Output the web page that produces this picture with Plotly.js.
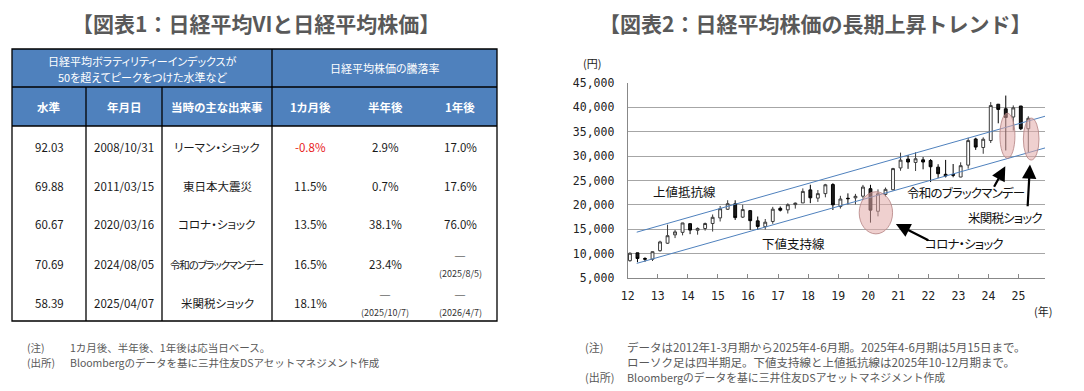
<!DOCTYPE html>
<html><head><meta charset="utf-8">
<script src="https://cdn.plot.ly/plotly-3.0.1.min.js"></script>
<style>
html,body{margin:0;padding:0;background:#fff;}
#chart{width:1084px;height:391px;}
</style></head><body><div id="chart"></div>
<script>
// ===== 図表1 table data =====
const groupHeaders = ['日経平均ボラティリティーインデックスが\n50を超えてピークをつけた水準など', '日経平均株価の騰落率'];
const colHeaders = ['水準', '年月日', '当時の主な出来事', '1カ月後', '半年後', '1年後'];
const vixLevels = ['92.03', '69.88', '60.67', '70.69', '58.39'];
const peakDates = ['2008/10/31', '2011/03/15', '2020/03/16', '2024/08/05', '2025/04/07'];
const events = ['リーマン・ショック', '東日本大震災', 'コロナ・ショック', '令和のブラックマンデー', '米関税ショック'];
const chg1m = ['-0.8%', '11.5%', '13.5%', '16.5%', '18.1%'];
const chg6m = ['2.9%', '0.7%', '38.1%', '23.4%', '―'];
const chg6mNote = ['', '', '', '', '(2025/10/7)'];
const chg1y = ['17.0%', '17.6%', '76.0%', '―', '―'];
const chg1yNote = ['', '', '', '(2025/8/5)', '(2026/4/7)'];

// ===== 図表2 candle data (quarterly) =====
const periods = ['2012Q1','2012Q2','2012Q3','2012Q4','2013Q1','2013Q2','2013Q3','2013Q4',
 '2014Q1','2014Q2','2014Q3','2014Q4','2015Q1','2015Q2','2015Q3','2015Q4',
 '2016Q1','2016Q2','2016Q3','2016Q4','2017Q1','2017Q2','2017Q3','2017Q4',
 '2018Q1','2018Q2','2018Q3','2018Q4','2019Q1','2019Q2','2019Q3','2019Q4',
 '2020Q1','2020Q2','2020Q3','2020Q4','2021Q1','2021Q2','2021Q3','2021Q4',
 '2022Q1','2022Q2','2022Q3','2022Q4','2023Q1','2023Q2','2023Q3','2023Q4',
 '2024Q1','2024Q2','2024Q3','2024Q4','2025Q1','2025Q2'];
const openP  = [8550,10161,9003,8852,10604,12135,13852,14364,16147,14792,15149,16174,17325,19097,20215,17484,
 18818,16719,15528,16598,19298,18983,20055,20400,23073,21388,22311,24167,19655,21351,21436,21780,
 23319,18686,22150,23105,27575,29389,28707,29235,29098,27737,26273,26216,25716,28150,33517,31771,
 33193,40646,39713,38022,40281,35624];
const highP  = [10255,10190,9254,10433,12650,15942,14855,16320,16164,15376,16374,18030,19778,20952,20946,20012,
 18951,17613,17100,19592,19668,20318,20481,23382,24129,23050,24306,24448,21860,22362,22255,24091,
 24115,23185,23559,27602,30714,30208,30795,29808,29388,28338,29222,28383,28734,33772,33772,33853,
 41087,40697,42426,40398,40288,38173];
const lowP   = [8349,8239,8328,8488,10398,12003,13188,13748,13995,13885,14720,14529,16592,18949,16901,17304,
 14865,14864,14952,16111,18650,18224,19239,20397,20347,20617,21546,18949,19241,20110,20110,21276,
 16358,17646,21710,22948,27002,27385,26954,27293,24681,25520,25621,25661,25661,27427,31275,30487,
 32693,36733,31156,35247,35338,30793];
const closeP = [10084,9007,8870,10395,12398,13677,14456,16291,14828,15162,16174,17451,19207,20236,17388,19034,
 16759,15576,16450,19114,18909,20033,20356,22765,21454,22305,24120,20015,21206,21276,21756,23657,
 18917,22288,23185,27444,29179,28792,29453,28792,27821,26393,25937,26095,28041,33189,31858,33464,
 40369,39583,37920,39895,35618,37756];
const yearTicks = [12,13,14,15,16,17,18,19,20,21,22,23,24,25];

// trend channel (to 2025 Oct-Dec)
const trendX = [12.3, 25.95];
const upperTrend = [14400, 38300];
const lowerTrend = [8000, 31800];

// highlighted periods (ellipses)
const hlX0 = [19.70, 24.38, 25.16];
const hlX1 = [20.81, 24.88, 25.68];
const hlY0 = [14050, 29550, 29200];
const hlY1 = [22700, 38800, 37800];

// callout labels
const calloutText = ['上値抵抗線', '下値支持線', 'コロナ・ショック', '令和のブラックマンデー', '米関税ショック'];
const calloutX = [13.9, 17.5, 23.2, 23.25, 24.55];
const calloutY = [22700, 12100, 12100, 22500, 17450];
// arrows
const arrowTailX = [22.05, 24.16, 25.30];
const arrowTailY = [12600, 23400, 19400];
const arrowTipX = [20.92, 24.56, 25.38];
const arrowTipY = [16100, 27900, 28300];

const notesLeft = [['(注)', '1カ月後、半年後、1年後は応当日ベース。'], ['(出所)', 'Bloombergのデータを基に三井住友DSアセットマネジメント作成']];
const notesRightLabel = ['(注)', '(出所)'];
const notesRightText = [
  ['データは2012年1-3月期から2025年4-6月期。2025年4-6月期は5月15日まで。', 'ローソク足は四半期足。下値支持線と上値抵抗線は2025年10-12月期まで。'],
  ['Bloombergのデータを基に三井住友DSアセットマネジメント作成']
];

// ===== layout helpers =====
const W = 1084, H = 391;
const PX = x => x / W;
const PY = y => 1 - y / H;
const JP = 'Noto Sans CJK JP, sans-serif';
// proportional kana (like Meiryo UI), optional tighter tracking
const palt = (t, ls) => '<span style="font-feature-settings:\'palt\';' + (ls ? 'letter-spacing:' + ls + 'px' : '') + '">' + t + '</span>';

const annotations = [];
const shapes = [];
function txt(text, x, y, size, color, xanchor, extra) {
  annotations.push(Object.assign({
    text: text, x: PX(x), y: PY(y), xref: 'paper', yref: 'paper',
    xanchor: xanchor || 'center', yanchor: 'middle', showarrow: false,
    font: {family: JP, size: size, color: color}
  }, extra || {}));
}

// titles
txt('<b>【図表1：日経平均VIと日経平均株価】</b>', 256, 23, 21, '#595959');
txt('<b>【図表2：日経平均株価の長期上昇トレンド】</b>', 815, 23, 21, '#595959');

// table geometry
const tL = 12, tR = 497, tTop = 49, tMid = 87, tHead = 126, tBot = 321;
const colEdges = [12, 86, 162, 272, 497];
const colCenters = [49, 124, 217, 310, 385, 460];
const rowY = [147, 186, 224, 264, 303];
const lineBlack = {color: '#000', width: 1.3};
function pline(x0, y0, x1, y1) {
  shapes.push({type: 'line', xref: 'paper', yref: 'paper', x0: PX(x0), y0: PY(y0), x1: PX(x1), y1: PY(y1), line: lineBlack});
}
shapes.push({type: 'rect', xref: 'paper', yref: 'paper', x0: PX(tL), x1: PX(tR), y0: PY(tTop), y1: PY(tHead), fillcolor: '#4F81BD', line: {width: 0}, layer: 'below'});
shapes.push({type: 'rect', xref: 'paper', yref: 'paper', x0: PX(tL), x1: PX(tR), y0: PY(tTop), y1: PY(tBot), line: lineBlack});
pline(tL, tMid, tR, tMid);
pline(tL, tHead, tR, tHead);
pline(colEdges[1], tMid, colEdges[1], tBot);
pline(colEdges[2], tMid, colEdges[2], tBot);
pline(colEdges[3], tTop, colEdges[3], tBot);

// group headers
const g1 = groupHeaders[0].split('\n');
txt(palt(g1[0]), 142, 61, 11, '#fff');
txt(palt(g1[1]), 142, 77, 11, '#fff');
txt(palt(groupHeaders[1]), 384.5, 68, 11, '#fff');
colHeaders.forEach((h, i) => txt('<b>' + palt(h) + '</b>', colCenters[i], 107, 11.5, '#fff'));

// body
const bodyCols = [vixLevels, peakDates, events, chg1m, chg6m, chg1y];
const noteCols = [null, null, null, null, chg6mNote, chg1yNote];
for (let r = 0; r < vixLevels.length; r++) {
  bodyCols.forEach((col, c) => {
    const v = col[r];
    const note = noteCols[c] ? noteCols[c][r] : '';
    const color = v.charAt(0) === '-' ? '#e8201a' : '#1a1a1a';
    if (note) {
      txt(v, colCenters[c], rowY[r] - 8, 12, color);
      txt(note, colCenters[c], rowY[r] + 9, 9, '#333');
    } else if (c === 2) {
      const long = v.length > 9;
      txt(palt(v, long ? -1.2 : 0), colCenters[c], rowY[r], long ? 10.5 : 11.5, color);
    } else {
      txt(v, colCenters[c], rowY[r], 11.5, color);
    }
  });
}

// notes
notesLeft.forEach((n, i) => { txt(n[0], 25, 347 + i * 15, 10.5, '#595959', 'left'); txt(n[1], 68, 347 + i * 15, 10.5, '#595959', 'left'); });
txt(notesRightLabel[0], 583, 347, 11, '#595959', 'left');
txt(notesRightText[0].join('<br>'), 625, 354, 11.5, '#595959', 'left', {align: 'left'});
txt(notesRightLabel[1], 583, 377, 11, '#595959', 'left');
txt(notesRightText[1][0], 625, 377, 10.8, '#595959', 'left');

// axis unit labels
txt('(円)', 592, 63, 11, '#222');
txt('(年)', 1043, 311, 11, '#222');

// chart callouts
calloutText.forEach((t, i) => annotations.push({
  text: palt(t, /[ァ-ヶー]/.test(t) ? -0.8 : 0), x: calloutX[i], y: calloutY[i], xref: 'x', yref: 'y', showarrow: false,
  font: {family: JP, size: 12.5, color: '#111'}
}));
arrowTipX.forEach((x, i) => annotations.push({
  text: '', x: x, y: arrowTipY[i], xref: 'x', yref: 'y',
  ax: arrowTailX[i], ay: arrowTailY[i], axref: 'x', ayref: 'y',
  showarrow: true, arrowhead: 2, arrowsize: 1.3, arrowwidth: 2.2, arrowcolor: '#000', standoff: 0
}));
hlX0.forEach((x0, i) => shapes.push({
  type: 'circle', xref: 'x', yref: 'y', x0: x0, x1: hlX1[i], y0: hlY0[i], y1: hlY1[i],
  fillcolor: 'rgba(226,170,168,0.55)', line: {color: 'rgba(180,130,130,0.8)', width: 1}, layer: 'above'
}));

const candleX = periods.map(p => +p.slice(2, 4) + (+p.slice(5) - 1) / 4 + 0.075);

const data = [
  {type: 'scatter', mode: 'lines', x: trendX, y: upperTrend, line: {color: '#4F81BD', width: 1}, hoverinfo: 'skip', showlegend: false},
  {type: 'scatter', mode: 'lines', x: trendX, y: lowerTrend, line: {color: '#4F81BD', width: 1}, hoverinfo: 'skip', showlegend: false},
  {type: 'candlestick', x: candleX, open: openP, high: highP, low: lowP, close: closeP,
   increasing: {line: {color: '#3a3a3a', width: 1}, fillcolor: '#ffffff'},
   decreasing: {line: {color: '#000000', width: 1}, fillcolor: '#1a1a1a'},
   whiskerwidth: 0, hoverinfo: 'skip', showlegend: false}
];

const layout = {
  width: W, height: H,
  margin: {l: 0, r: 0, t: 0, b: 0},
  paper_bgcolor: '#fff', plot_bgcolor: '#fff',
  showlegend: false,
  boxgap: 0.62, boxgroupgap: 0,
  xaxis: {
    domain: [PX(627.7), PX(1045)], range: [12, 25.88],
    tickvals: yearTicks, ticktext: yearTicks.map(String),
    ticks: 'inside', ticklen: 4, tickcolor: '#888', tickwidth: 1,
    showline: true, linecolor: '#888', linewidth: 1,
    showgrid: false, zeroline: false, rangeslider: {visible: false},
    tickfont: {family: 'DejaVu Sans Mono, monospace', size: 11.5, color: '#222'},
    ticklabelstandoff: 7, fixedrange: true
  },
  yaxis: {
    domain: [PY(278), PY(83)], range: [5000, 45000], dtick: 5000, tick0: 5000,
    tickformat: ',.0f', showgrid: true, gridcolor: '#a6a6a6', gridwidth: 1,
    showline: true, linecolor: '#888', linewidth: 1, zeroline: false, ticks: '',
    tickfont: {family: 'DejaVu Sans Mono, monospace', size: 11.5, color: '#222'},
    ticklabelstandoff: 10, fixedrange: true
  },
  annotations: annotations,
  shapes: shapes
};

Plotly.newPlot('chart', data, layout, {displayModeBar: false, staticPlot: true});
</script></body></html>
